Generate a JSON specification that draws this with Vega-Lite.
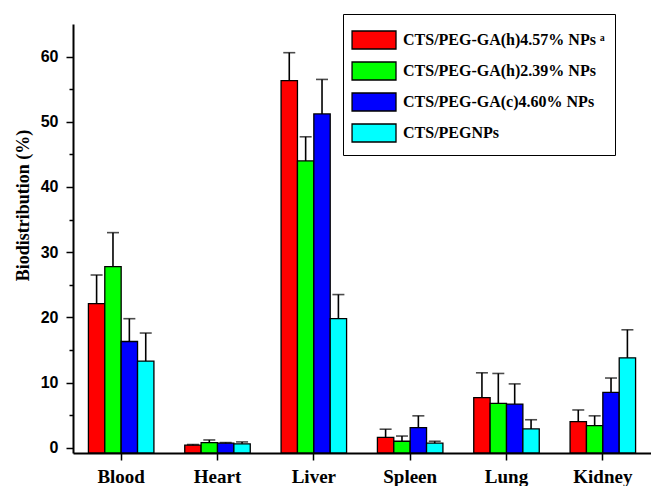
{
  "$schema": "https://vega.github.io/schema/vega-lite/v6.json",
  "width": 578,
  "height": 429,
  "autosize": "none",
  "padding": {"left": 73, "top": 24, "right": 0, "bottom": 33},
  "background": "white",
  "config": {
    "view": {"stroke": null},
    "font": "Liberation Serif",
    "axisY": {
      "titleFont": "Liberation Serif",
      "titleFontSize": 18,
      "titleFontWeight": "bold",
      "titleColor": "black",
      "titlePadding": 8,
      "titleY": 181,
      "labelFont": "Liberation Sans",
      "labelFontSize": 16,
      "labelFontWeight": "bold",
      "labelColor": "black",
      "labelPadding": 8,
      "tickColor": "black",
      "tickWidth": 1.5,
      "domainColor": "black",
      "domainWidth": 2,
      "grid": false
    }
  },
  "data": {
    "values": [
      {"organ": "Blood", "group": "CTS/PEG-GA(h)4.57% NPs", "value": 22.1, "upper": 26.5},
      {"organ": "Blood", "group": "CTS/PEG-GA(h)2.39% NPs", "value": 27.8, "upper": 33.0},
      {"organ": "Blood", "group": "CTS/PEG-GA(c)4.60% NPs", "value": 16.3, "upper": 19.8},
      {"organ": "Blood", "group": "CTS/PEGNPs", "value": 13.3, "upper": 17.6},
      {"organ": "Heart", "group": "CTS/PEG-GA(h)4.57% NPs", "value": 0.4, "upper": 0.5},
      {"organ": "Heart", "group": "CTS/PEG-GA(h)2.39% NPs", "value": 0.8, "upper": 1.2},
      {"organ": "Heart", "group": "CTS/PEG-GA(c)4.60% NPs", "value": 0.7, "upper": 0.8},
      {"organ": "Heart", "group": "CTS/PEGNPs", "value": 0.6, "upper": 0.9},
      {"organ": "Liver", "group": "CTS/PEG-GA(h)4.57% NPs", "value": 56.3, "upper": 60.6},
      {"organ": "Liver", "group": "CTS/PEG-GA(h)2.39% NPs", "value": 44.0, "upper": 47.7},
      {"organ": "Liver", "group": "CTS/PEG-GA(c)4.60% NPs", "value": 51.2, "upper": 56.5},
      {"organ": "Liver", "group": "CTS/PEGNPs", "value": 19.8, "upper": 23.5},
      {"organ": "Spleen", "group": "CTS/PEG-GA(h)4.57% NPs", "value": 1.6, "upper": 2.85},
      {"organ": "Spleen", "group": "CTS/PEG-GA(h)2.39% NPs", "value": 1.0, "upper": 1.8},
      {"organ": "Spleen", "group": "CTS/PEG-GA(c)4.60% NPs", "value": 3.1, "upper": 4.9},
      {"organ": "Spleen", "group": "CTS/PEGNPs", "value": 0.7, "upper": 1.0},
      {"organ": "Lung", "group": "CTS/PEG-GA(h)4.57% NPs", "value": 7.7, "upper": 11.5},
      {"organ": "Lung", "group": "CTS/PEG-GA(h)2.39% NPs", "value": 6.8, "upper": 11.4},
      {"organ": "Lung", "group": "CTS/PEG-GA(c)4.60% NPs", "value": 6.7, "upper": 9.8},
      {"organ": "Lung", "group": "CTS/PEGNPs", "value": 2.9, "upper": 4.3},
      {"organ": "Kidney", "group": "CTS/PEG-GA(h)4.57% NPs", "value": 4.0, "upper": 5.8},
      {"organ": "Kidney", "group": "CTS/PEG-GA(h)2.39% NPs", "value": 3.4, "upper": 4.9},
      {"organ": "Kidney", "group": "CTS/PEG-GA(c)4.60% NPs", "value": 8.5, "upper": 10.7},
      {"organ": "Kidney", "group": "CTS/PEGNPs", "value": 13.8, "upper": 18.1}
    ]
  },
  "encoding": {
    "x": {
      "field": "organ",
      "type": "nominal",
      "sort": ["Blood", "Heart", "Liver", "Spleen", "Lung", "Kidney"],
      "scale": {"paddingInner": 0.32, "paddingOuter": 0.16},
      "axis": {
        "title": null,
        "labelAngle": 0,
        "labelFont": "Liberation Serif",
        "labelFontSize": 19,
        "labelFontWeight": "bold",
        "labelColor": "black",
        "labelPadding": 7,
        "tickSize": 7,
        "tickWidth": 1.5,
        "tickColor": "black",
        "domainColor": "black",
        "domainWidth": 2
      }
    },
    "xOffset": {
      "field": "group",
      "type": "nominal",
      "sort": ["CTS/PEG-GA(h)4.57% NPs", "CTS/PEG-GA(h)2.39% NPs", "CTS/PEG-GA(c)4.60% NPs", "CTS/PEGNPs"],
      "scale": {"paddingInner": 0, "paddingOuter": 0}
    }
  },
  "layer": [
    {
      "mark": {"type": "bar", "stroke": "black", "strokeWidth": 1.3},
      "encoding": {
        "y": {
          "field": "value",
          "type": "quantitative",
          "title": "Biodistribution (%)",
          "scale": {"domain": [-0.8, 65], "nice": false, "zero": false},
          "axis": {
            "titleFont": "Liberation Serif",
            "titleFontSize": 18,
            "titleFontWeight": "bold",
            "values": [0, 5, 10, 15, 20, 25, 30, 35, 40, 45, 50, 55, 60],
            "labelExpr": "datum.value % 10 === 0 ? datum.label : ''",
            "tickSize": {"condition": {"test": "datum.value % 10 === 0", "value": 7}, "value": 4}
          }
        },
        "y2": {"datum": -0.8},
        "color": {
          "field": "group",
          "type": "nominal",
          "sort": ["CTS/PEG-GA(h)4.57% NPs", "CTS/PEG-GA(h)2.39% NPs", "CTS/PEG-GA(c)4.60% NPs", "CTS/PEGNPs"],
          "scale": {"range": ["#FF0000", "#00FF00", "#0000FF", "#00FFFF"]},
          "legend": {
            "title": null,
            "orient": "none",
            "legendX": 270,
            "legendY": -10,
            "padding": 10,
            "strokeColor": "black",
            "fillColor": "white",
            "symbolType": "M-1.13,-0.6H1.8V0.6H-1.13Z",
            "symbolSize": 900,
            "symbolStrokeColor": "black",
            "symbolStrokeWidth": 1.3,
            "symbolOpacity": 1,
            "labelOffset": 18,
            "rowPadding": 3,
            "labelFont": "Liberation Serif",
            "labelFontSize": 16,
            "labelFontWeight": "bold",
            "labelColor": "black",
            "labelLimit": 400,
            "labelExpr": "datum.index === 0 ? datum.label + ' ᵃ' : datum.label"
          }
        }
      }
    },
    {
      "mark": {"type": "rule", "color": "black", "strokeWidth": 1.6},
      "encoding": {
        "y": {
          "field": "value",
          "type": "quantitative",
          "title": "Biodistribution (%)",
          "axis": {
            "titleFont": "Liberation Serif",
            "titleFontSize": 18,
            "titleFontWeight": "bold",
            "values": [0, 5, 10, 15, 20, 25, 30, 35, 40, 45, 50, 55, 60],
            "labelExpr": "datum.value % 10 === 0 ? datum.label : ''",
            "tickSize": {"condition": {"test": "datum.value % 10 === 0", "value": 7}, "value": 4}
          }
        },
        "y2": {"field": "upper"}
      }
    },
    {
      "mark": {"type": "tick", "color": "black", "thickness": 1.6, "size": 12},
      "encoding": {
        "y": {
          "field": "upper",
          "type": "quantitative",
          "title": "Biodistribution (%)",
          "axis": {
            "titleFont": "Liberation Serif",
            "titleFontSize": 18,
            "titleFontWeight": "bold",
            "values": [0, 5, 10, 15, 20, 25, 30, 35, 40, 45, 50, 55, 60],
            "labelExpr": "datum.value % 10 === 0 ? datum.label : ''",
            "tickSize": {"condition": {"test": "datum.value % 10 === 0", "value": 7}, "value": 4}
          }
        }
      }
    }
  ]
}
